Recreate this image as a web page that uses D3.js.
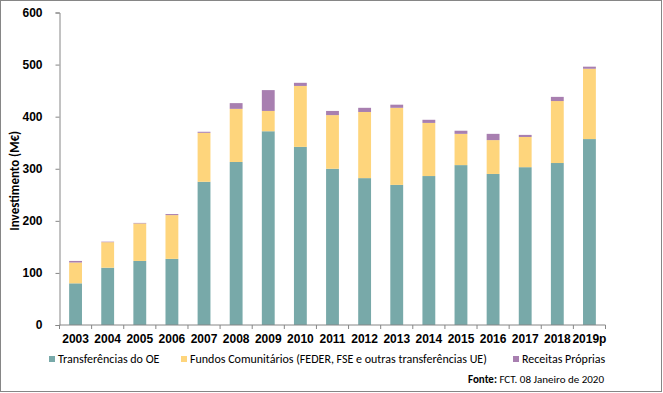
<!DOCTYPE html>
<meta charset="utf-8">
<style>
body { margin: 0; background: #fff; }
svg { font-family: Calibri, Carlito, Lato, sans-serif; }
.axis path, .axis line { stroke: #868686; }
.axis text { font-size: 12px; font-weight: bold; fill: #000; }
</style>
<body>
<script src="https://cdn.jsdelivr.net/npm/d3@7"></script>
<script>
// data (M€)
var years = ["2003","2004","2005","2006","2007","2008","2009","2010","2011","2012","2013","2014","2015","2016","2017","2018","2019p"];
var oe      = [80, 110, 123, 127, 275, 313, 372, 342, 300, 282, 269, 286, 307, 290, 303, 311, 357];
var fundos  = [40, 49, 72, 84, 94, 102, 39, 117, 103, 127, 148, 102, 60, 65, 58, 119, 135];
var proprias = [3, 1, 1, 2, 2, 11, 40, 6, 8, 8, 6, 6, 6, 12, 4, 8, 4];
var yTicks = [0, 100, 200, 300, 400, 500, 600];
var seriesNames = ["Transferências do OE", "Fundos Comunitários (FEDER, FSE e outras transferências UE)", "Receitas Próprias"];
var colors = ["#78a9a9", "#fed57c", "#a87fb0"];

var W = 663, H = 393;
var margin = {top: 12.5, left: 59.5, right: 57.5, bottom: 68};
var width = W - margin.left - margin.right,
    height = H - margin.top - margin.bottom;

var svg = d3.select("body").append("svg")
    .attr("width", W)
    .attr("height", H);

// outer frame
svg.append("rect")
    .attr("x", 0.5).attr("y", 0.5)
    .attr("width", W - 2).attr("height", H - 2)
    .attr("fill", "#fff")
    .attr("stroke", "#868686");

var g = svg.append("g")
    .attr("transform", "translate(" + margin.left + "," + margin.top + ")");

var x = d3.scaleBand().domain(years).range([0, width]).paddingInner(0.6).paddingOuter(0.3);
var y = d3.scaleLinear().domain([0, 600]).range([height, 0]);

var table = years.map(function(yr, i) {
  return {year: yr, oe: oe[i], fundos: fundos[i], proprias: proprias[i]};
});
var stack = d3.stack().keys(["oe", "fundos", "proprias"])(table);

g.selectAll(".serie")
    .data(stack)
  .enter().append("g")
    .attr("fill", function(d, i) { return colors[i]; })
  .selectAll("rect")
    .data(function(d) { return d; })
  .enter().append("rect")
    .attr("x", function(d) { return x(d.data.year); })
    .attr("width", x.bandwidth())
    .attr("y", function(d) { return y(d[1]); })
    .attr("height", function(d) { return y(d[0]) - y(d[1]); });

// y axis
g.append("g")
    .attr("class", "axis")
    .call(d3.axisLeft(y).tickValues(yTicks).tickSize(4).tickPadding(13));

// x axis, ticks between categories
var xAxis = g.append("g")
    .attr("class", "axis")
    .attr("transform", "translate(0," + height + ")")
    .call(d3.axisBottom(x).tickSize(0).tickPadding(9));
xAxis.select(".domain").attr("d", "M0,0H" + width);
xAxis.selectAll(".sep")
    .data(d3.range(years.length + 1))
  .enter().append("line")
    .attr("x1", function(i) { return i * width / years.length; })
    .attr("x2", function(i) { return i * width / years.length; })
    .attr("y1", 0).attr("y2", 4);

// y title
svg.append("text")
    .attr("transform", "translate(19," + (margin.top + height / 2 + 12) + ") rotate(-90)")
    .attr("text-anchor", "middle")
    .style("font-size", "13px")
    .style("font-weight", "bold")
    .text("Investimento (M€)");

// legend
var legX = [49, 181, 513];
var leg = svg.selectAll(".leg")
    .data(seriesNames)
  .enter().append("g")
    .attr("transform", function(d, i) { return "translate(" + legX[i] + ",359)"; });
leg.append("rect")
    .attr("x", 0).attr("y", -3).attr("width", 6).attr("height", 6)
    .attr("fill", function(d, i) { return colors[i]; });
leg.append("text")
    .attr("x", 9).attr("dy", "0.35em")
    .style("font-size", "12px")
    .text(function(d) { return d; });

// source
var src = svg.append("text")
    .attr("x", 604).attr("y", 379)
    .attr("dy", "0.35em")
    .attr("text-anchor", "end")
    .style("font-size", "11px");
src.append("tspan").style("font-weight", "bold").text("Fonte: ");
src.append("tspan").text("FCT. 08 Janeiro de 2020");
</script>
</body>
